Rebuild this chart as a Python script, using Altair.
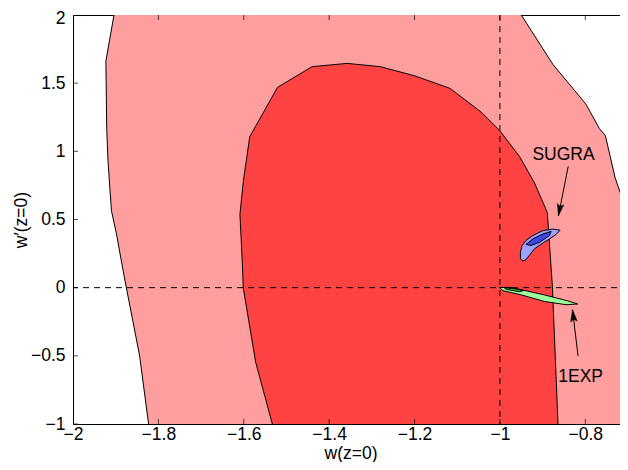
import altair as alt
import pandas as pd

# ---- data ----
x_ticks = [-2.0, -1.8, -1.6, -1.4, -1.2, -1.0, -0.8]
y_ticks = [-1.0, -0.5, 0.0, 0.5, 1.0, 1.5, 2.0]

# outer (95%) region: left boundary top->bottom, then right boundary bottom->top
outer_x = [-1.898, -1.904, -1.923, -1.921, -1.918, -1.910, -1.898, -1.880, -1.844, -1.823, -1.820,
           -0.50, -0.50, -0.706, -0.730, -0.753, -0.767, -0.799, -0.876, -0.950, -0.965]
outer_y = [2.10, 2.00, 1.662, 1.167, 0.928, 0.565, 0.391, 0.080, -0.500, -1.000, -1.100,
           -1.100, 0.200, 0.587, 0.804, 1.116, 1.167, 1.348, 1.638, 2.000, 2.100]

# inner (68%) region
inner_x = [-1.524, -1.533, -1.572, -1.601, -1.604, -1.609, -1.601, -1.586, -1.521, -1.440, -1.358,
           -1.280, -1.199, -1.117, -1.044, -1.001, -0.954, -0.919, -0.889, -0.877, -0.864, -0.863]
inner_y = [-1.100, -1.000, -0.549, -0.005, 0.225, 0.538, 0.780, 1.107, 1.469, 1.621, 1.645,
           1.621, 1.553, 1.462, 1.288, 1.154, 0.962, 0.768, 0.551, 0.007, -1.000, -1.100]

# SUGRA contours
sugra_out_x = [-0.859, -0.876, -0.900, -0.923, -0.939, -0.948, -0.952, -0.952, -0.946, -0.939,
               -0.931, -0.919, -0.900, -0.884, -0.869]
sugra_out_y = [0.422, 0.430, 0.418, 0.382, 0.346, 0.309, 0.261, 0.212, 0.196, 0.205,
               0.237, 0.285, 0.326, 0.357, 0.389]
sugra_in_x = [-0.939, -0.923, -0.900, -0.880, -0.884, -0.907, -0.927]
sugra_in_y = [0.317, 0.357, 0.393, 0.413, 0.382, 0.333, 0.309]

# 1EXP contours
exp_out_x = [-1.001, -0.974, -0.896, -0.842, -0.818, -0.845, -0.896, -0.950, -0.993]
exp_out_y = [0.002, 0.002, -0.053, -0.096, -0.120, -0.125, -0.101, -0.053, -0.022]
exp_in_x = [-0.990, -0.965, -0.945, -0.955, -0.985]
exp_in_y = [0.000, -0.008, -0.022, -0.030, -0.012]

labels = ["SUGRA", "1EXP"]
label_x = [-0.851, -0.811]
label_y = [0.971, -0.652]
arrow_x0 = [-0.840, -0.817]
arrow_y0 = [0.889, -0.500]
arrow_x1 = [-0.863, -0.830]
arrow_y1 = [0.527, -0.162]
arrow_angle = [191, 353]

FONT = "Liberation Sans"
FS = 17.5


def poly(xs, ys):
    xs = list(xs) + [xs[0]]
    ys = list(ys) + [ys[0]]
    return pd.DataFrame({"x": xs, "y": ys, "o": list(range(len(xs)))})


xscale = alt.Scale(domain=[-2, -0.7], nice=False, zero=False)
yscale = alt.Scale(domain=[-1, 2], nice=False, zero=False)

xaxis = alt.Axis(values=x_ticks, format="~g", ticks=False, domain=False, grid=False,
                 labelFont=FONT, labelFontSize=FS, labelColor="black", labelPadding=1,
                 labelFlush=False, title="w(z=0)", titleFont=FONT, titleFontSize=FS,
                 titleFontWeight="normal", titleColor="black",
                 titleBaseline="alphabetic", titleY=34)
yaxis = alt.Axis(values=y_ticks, format="~g", ticks=False, domain=False, grid=False,
                 labelFont=FONT, labelFontSize=FS, labelColor="black", labelPadding=8,
                 labelOffset={"condition": {"test": "datum.value == 2", "value": 3}, "value": 0},
                 labelFlush=False, title="w\u2032(z=0)", titleFont=FONT, titleFontSize=FS,
                 titleFontWeight="normal", titleColor="black", titlePadding=0)

X = alt.X("x:Q", scale=xscale, axis=xaxis)
Y = alt.Y("y:Q", scale=yscale, axis=yaxis)


def region(xs, ys, fill, stroke="black", sw=1.0):
    return alt.Chart(poly(xs, ys)).mark_line(
        fill=fill, stroke=stroke, strokeWidth=sw, clip=True, interpolate="linear"
    ).encode(x=X, y=Y, order="o:Q")


outer = region(outer_x, outer_y, "#FF9E9E")
inner = region(inner_x, inner_y, "#FF4242")

vline = alt.Chart(pd.DataFrame({"x": [-1.0]})).mark_rule(
    color="black", strokeDash=[6, 5], strokeWidth=1).encode(x=X)
hline = alt.Chart(pd.DataFrame({"y": [0.0]})).mark_rule(
    color="black", strokeDash=[6, 5], strokeWidth=1).encode(y=Y)

sug_o = region(sugra_out_x, sugra_out_y, "#9DA2FF")
sug_i = region(sugra_in_x, sugra_in_y, "#3C46E6")
exp_o = region(exp_out_x, exp_out_y, "#9CFF9C")
exp_i = region(exp_in_x, exp_in_y, "#3CCB3C")

ann = pd.DataFrame({"t": labels, "x": label_x, "y": label_y,
                    "x0": arrow_x0, "y0": arrow_y0, "x1": arrow_x1, "y1": arrow_y1,
                    "a": arrow_angle})
texts = alt.Chart(ann).mark_text(font=FONT, fontSize=FS, color="black").encode(
    x=X, y=Y, text="t:N")
shafts = alt.Chart(ann).mark_rule(color="black", strokeWidth=1).encode(
    x=alt.X("x0:Q", scale=xscale, axis=xaxis), y=alt.Y("y0:Q", scale=yscale, axis=yaxis),
    x2="x1:Q", y2="y1:Q")
heads = alt.Chart(ann).mark_point(
    shape="M0,0L-0.28,1L0,0.8L0.28,1Z", filled=True, fill="black", stroke="black",
    strokeWidth=0.5, size=560, opacity=1).encode(
    x=alt.X("x1:Q", scale=xscale, axis=xaxis), y=alt.Y("y1:Q", scale=yscale, axis=yaxis),
    angle=alt.Angle("a:Q", scale=None))

xt = pd.DataFrame({"x": x_ticks})
yt = pd.DataFrame({"y": y_ticks})
ticks_bottom = alt.Chart(xt).mark_tick(orient="vertical", size=10, thickness=1,
                                       color="black", clip=True).encode(x=X, y=alt.datum(-1.0))
ticks_top = alt.Chart(xt).mark_tick(orient="vertical", size=10, thickness=1,
                                    color="black", clip=True).encode(x=X, y=alt.datum(2.0))
ticks_left = alt.Chart(yt).mark_tick(orient="horizontal", size=10, thickness=1,
                                     color="black", clip=True).encode(y=Y, x=alt.datum(-2.0))
ticks_right = alt.Chart(yt).mark_tick(orient="horizontal", size=10, thickness=1,
                                      color="black", clip=True).encode(y=Y, x=alt.datum(-0.7))

chart = alt.layer(
    outer, inner, vline, hline, sug_o, sug_i, exp_o, exp_i,
    shafts, heads, texts, ticks_bottom, ticks_top, ticks_left, ticks_right
).properties(
    width=555, height=409,
    padding={"left": 65, "top": 7, "right": -8, "bottom": 38},
    autosize=alt.AutoSizeParams(type="none"),
    background="white",
).configure_view(stroke="black", strokeWidth=1)

chart.save("out.html", embed_options={"renderer": "svg", "actions": False})
